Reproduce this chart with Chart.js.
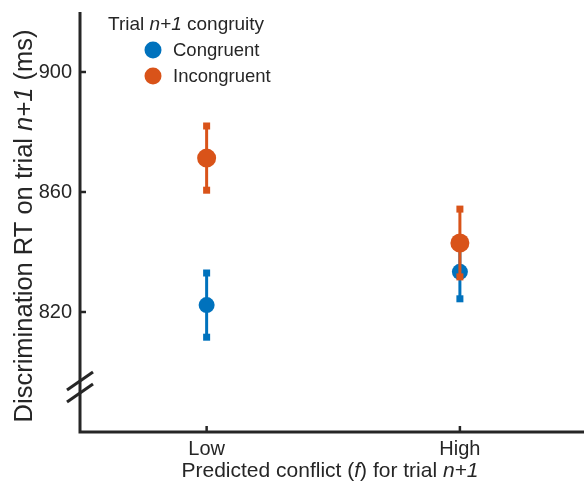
<!DOCTYPE html>
<html>
<head>
<meta charset="utf-8">
<script src="https://cdn.jsdelivr.net/npm/chart.js@4"></script>
<style>
  html, body { margin: 0; padding: 0; background: #fff; }
  #wrap { width: 584px; height: 489px; }
</style>
</head>
<body>
<div id="wrap"><canvas id="c" width="584" height="489"></canvas></div>
<script>
const categories = ['Low', 'High'];
const congruentRT = [822.3, 833.4];
const congruentErr = [10.7, 9.0];
const incongruentRT = [871.3, 843.0];
const incongruentErr = [10.7, 11.3];
const yTicks = [820, 860, 900];

const BLUE = '#0072BD', ORANGE = '#D95319', INK = '#262626';
const FONT = '"Liberation Sans", Arial, sans-serif';

const pts = arr => arr.map((v, i) => ({ x: i + 1, y: v }));

// mixed upright / italic text, parts = [[text, italic], ...]
function rich(ctx, parts, x, y, size, align) {
  const f = it => `${it ? 'italic ' : ''}${size}px ${FONT}`;
  let w = 0;
  parts.forEach(([t, it]) => { ctx.font = f(it); w += ctx.measureText(t).width; });
  let cx = align === 'center' ? x - w / 2 : x;
  ctx.textAlign = 'left';
  parts.forEach(([t, it]) => { ctx.font = f(it); ctx.fillText(t, cx, y); cx += ctx.measureText(t).width; });
}

const errorBars = {
  id: 'errorBars',
  beforeDatasetDraw(chart, args) {
    const ds = chart.data.datasets[args.index];
    const { ctx, scales: { x, y } } = chart;
    ctx.save();
    ctx.strokeStyle = ctx.fillStyle = ds.backgroundColor;
    ctx.lineWidth = 3;
    ds.data.forEach((p, i) => {
      const px = x.getPixelForValue(p.x);
      const top = y.getPixelForValue(p.y + ds.err[i]);
      const bot = y.getPixelForValue(p.y - ds.err[i]);
      ctx.beginPath(); ctx.moveTo(px, top); ctx.lineTo(px, bot); ctx.stroke();
      ctx.fillRect(px - 3.5, top - 3.5, 7, 7);
      ctx.fillRect(px - 3.5, bot - 3.5, 7, 7);
    });
    ctx.restore();
  }
};

const decor = {
  id: 'decor',
  afterDraw(chart) {
    const { ctx, chartArea: a, scales: { x, y } } = chart;
    ctx.save();
    ctx.strokeStyle = INK; ctx.fillStyle = INK;
    // axes
    ctx.lineWidth = 3;
    ctx.beginPath();
    ctx.moveTo(a.left, a.top); ctx.lineTo(a.left, a.bottom); ctx.lineTo(a.right, a.bottom);
    ctx.stroke();
    // inward ticks
    ctx.lineWidth = 2.5;
    yTicks.forEach(v => {
      const py = y.getPixelForValue(v);
      ctx.beginPath(); ctx.moveTo(a.left, py); ctx.lineTo(a.left + 6, py); ctx.stroke();
    });
    categories.forEach((c, i) => {
      const px = x.getPixelForValue(i + 1);
      ctx.beginPath(); ctx.moveTo(px, a.bottom); ctx.lineTo(px, a.bottom - 6); ctx.stroke();
    });
    // axis break
    ctx.lineWidth = 3;
    [797, 793].forEach(v => {
      const py = y.getPixelForValue(v);
      ctx.beginPath(); ctx.moveTo(a.left - 13, py + 9); ctx.lineTo(a.left + 13, py - 9); ctx.stroke();
    });
    // titles
    ctx.textBaseline = 'alphabetic';
    rich(ctx, [['Predicted conflict (', 0], ['f', 1], [') for trial ', 0], ['n+1', 1]], 330, 477, 21, 'center');
    ctx.save();
    ctx.translate(32, 226); ctx.rotate(-Math.PI / 2);
    rich(ctx, [['Discrimination RT on trial ', 0], ['n+1', 1], [' (ms)', 0]], 0, 0, 25.5, 'center');
    ctx.restore();
    // legend
    rich(ctx, [['Trial ', 0], ['n+1', 1], [' congruity', 0]], 108, 30, 19, 'left');
    chart.data.datasets.forEach((ds, i) => {
      const ly = 50 + i * 26;
      ctx.fillStyle = ds.backgroundColor;
      ctx.beginPath(); ctx.arc(153, ly, 8.5, 0, Math.PI * 2); ctx.fill();
      ctx.fillStyle = INK; ctx.textBaseline = 'middle';
      rich(ctx, [[ds.label, 0]], 173, ly + 1, 18.5, 'left');
    });
    ctx.restore();
  }
};

new Chart(document.getElementById('c'), {
  type: 'scatter',
  data: {
    datasets: [
      { label: 'Congruent', data: pts(congruentRT), err: congruentErr, backgroundColor: BLUE, borderColor: BLUE,
        pointRadius: 8, pointHoverRadius: 8, borderWidth: 0, order: 2 },
      { label: 'Incongruent', data: pts(incongruentRT), err: incongruentErr, backgroundColor: ORANGE, borderColor: ORANGE,
        pointRadius: 9.5, pointHoverRadius: 9.5, borderWidth: 0, order: 1 },
    ]
  },
  options: {
    responsive: false, animation: false,
    layout: { padding: { top: 12, right: 0, left: 0, bottom: 0 }, autoPadding: false },
    plugins: { legend: { display: false }, tooltip: { enabled: false } },
    scales: {
      x: {
        type: 'linear', min: 0.5, max: 2.49,
        afterBuildTicks: s => { s.ticks = categories.map((c, i) => ({ value: i + 1 })); },
        afterFit: s => { s.height = 57; s.paddingLeft = 0; s.paddingRight = 0; },
        ticks: { callback: v => categories[v - 1], color: INK, font: { family: FONT, size: 20 }, padding: 5 },
        grid: { display: false, drawTicks: false }, border: { display: false }
      },
      y: {
        min: 780, max: 920,
        afterBuildTicks: s => { s.ticks = yTicks.map(v => ({ value: v })); },
        afterFit: s => { s.width = 80; s.paddingTop = 0; s.paddingBottom = 0; },
        ticks: { color: INK, font: { family: FONT, size: 20 }, padding: 8 },
        grid: { display: false, drawTicks: false }, border: { display: false }
      }
    }
  },
  plugins: [errorBars, decor]
});
</script>
</body>
</html>
